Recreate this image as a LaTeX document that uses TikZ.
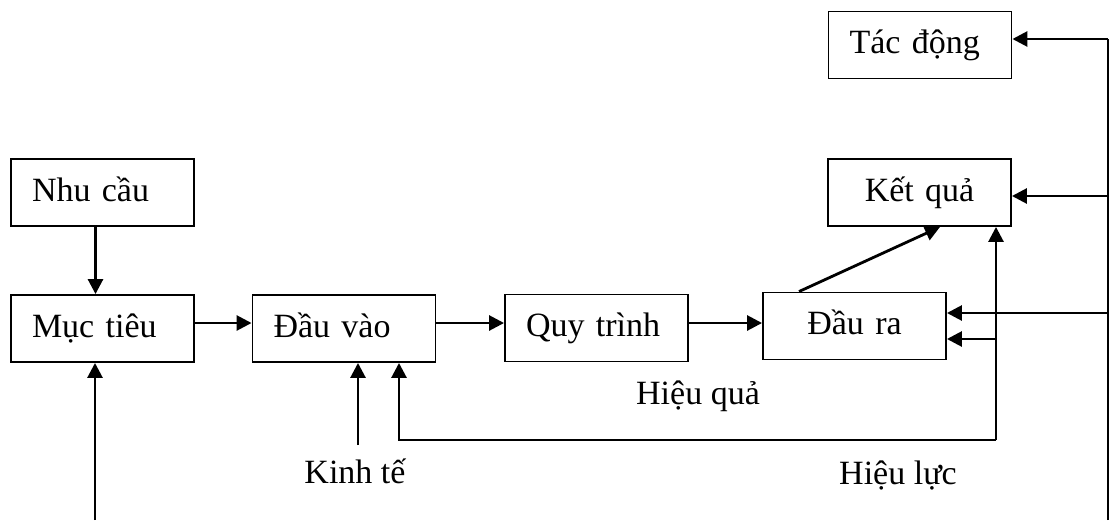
\documentclass[tikz,border=0pt]{standalone}
\usepackage{fontspec}
\setmainfont{Liberation Serif}
\usetikzlibrary{arrows.meta}
\begin{document}
\begin{tikzpicture}[x=1pt,y=-1pt,
  font=\fontsize{34}{40}\selectfont,
  box/.style={draw,line width=1.9pt,minimum height=67pt,inner xsep=21pt,
    text width=141pt,align=left,text height=24pt,text depth=7pt},
  cbox/.style={box,align=center},
  lbl/.style={inner sep=0pt,text height=24pt,text depth=7pt},
  arr/.style={line width=2.8pt,-{Triangle[length=15pt,width=15pt]}},
  ln/.style={line width=2.8pt}]
\useasboundingbox (0,0) rectangle (1110,520);

% boxes
\node[box]  (tac)      at (920,45)     {Tác động};
\node[cbox] (ketqua)   at (919.5,192.5){Kết quả};
\node[box]  (nhucau)   at (102.5,192.5){Nhu cầu};
\node[box]  (muctieu)  at (102.5,328.5){Mục tiêu};
\node[box]  (dauvao)   at (344,328.5)  {Đầu vào};
\node[box]  (quytrinh) at (596.5,328)  {Quy trình};
\node[cbox] (daura)    at (854.5,326)  {Đầu ra};

% free labels
\node[lbl] (hieuqua) at (698,395.5) {Hiệu quả};
\node[lbl] (kinhte)  at (355,474.5) {Kinh tế};
\node[lbl] (hieuluc) at (898,475.5) {Hiệu lực};

% main chain
\draw[arr] ([xshift=-7pt]nhucau.south) -- ([xshift=-7pt]muctieu.north);
\coordinate (mbot) at (95,520);
\draw[arr] (mbot) -- (mbot |- muctieu.south);
\draw[arr] ([yshift=5.5pt]muctieu.east) -- ([yshift=5.5pt]muctieu.east -| dauvao.west);
\draw[arr] ([yshift=5.5pt]dauvao.east) -- ([yshift=5.5pt]dauvao.east -| quytrinh.west);
\draw[arr] ([yshift=5pt]quytrinh.east) -- ([yshift=5pt]quytrinh.east -| daura.west);
\draw[arr] ([xshift=-55.5pt]daura.north) -- ([xshift=20.5pt]ketqua.south);

% outer feedback line on the right
\coordinate (rb) at (1108,520);
\coordinate (rt) at (1108,39);
\coordinate (rk) at (1108,196);
\coordinate (rd) at (1108,313);
\draw[ln] (rb) -- (rt);
\draw[arr] (rt) -- (rt -| tac.east);
\draw[arr] (rk) -- (rk -| ketqua.east);
\draw[arr] (rd) -- (rd -| daura.east);

% inner feedback loop
\coordinate (fb) at (996,440);
\coordinate (fa) at (399,440);
\coordinate (fm) at (996,339);
\draw[arr] (fb) -- (fb |- ketqua.south);
\draw[arr] (fm) -- (fm -| daura.east);
\draw[arr] (fb) -- (fa) -- (fa |- dauvao.south);

% economy input
\coordinate (kt) at (358,445);
\draw[arr] (kt) -- (kt |- dauvao.south);
\end{tikzpicture}
\end{document}
